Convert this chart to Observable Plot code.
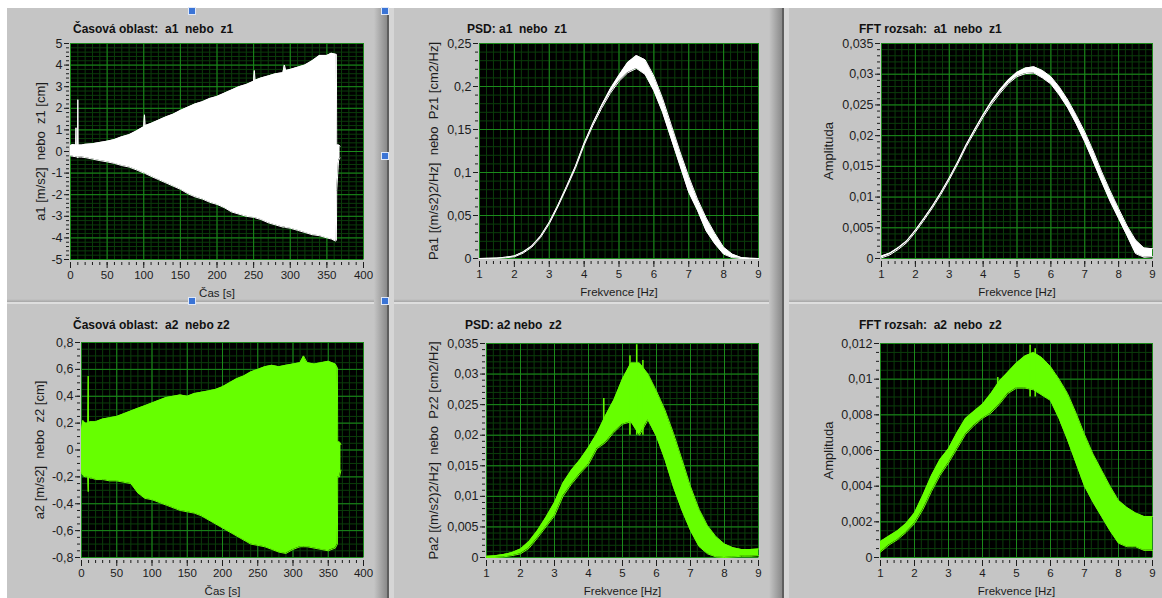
<!DOCTYPE html>
<html><head><meta charset="utf-8">
<script src="https://cdn.jsdelivr.net/npm/d3@7"></script>
<script src="https://cdn.jsdelivr.net/npm/@observablehq/plot@0.6"></script>
<style>
body{margin:0;background:#fff;}
#page{position:relative;width:1162px;height:598px;overflow:hidden;background:#fff;}
#page > div{position:absolute;}
.title{font:bold 12px "Liberation Sans",Arial,sans-serif;white-space:pre;color:#111;line-height:14px;}
.handle{width:6px;height:6px;background:#3a74d6;border:1px solid #dfe8f8;}
.plotbox svg{overflow:visible;display:block;}
</style></head>
<body>
<div id="page">
  <div style="left:7px;top:8px;width:1155px;height:590px;background:#c5c5c5"></div>
  <!-- horizontal separator -->
  <div style="left:7px;top:299px;width:1155px;height:3px;background:linear-gradient(#c5c5c5,#a6a6a6)"></div>
  <div style="left:7px;top:302px;width:1155px;height:2px;background:#dedede"></div>
  <!-- vertical separators -->
  <div style="left:374px;top:8px;width:13px;height:590px;background:linear-gradient(to right,#c5c5c5,#8a8a8a)"></div>
  <div style="left:387px;top:8px;width:2px;height:590px;background:#5e5e5e"></div>
  <div style="left:389px;top:8px;width:5px;height:590px;background:#d6d6d6"></div>
  <div style="left:769px;top:8px;width:13px;height:590px;background:linear-gradient(to right,#c5c5c5,#8a8a8a)"></div>
  <div style="left:782px;top:8px;width:2px;height:590px;background:#5e5e5e"></div>
  <div style="left:784px;top:8px;width:5px;height:590px;background:#d6d6d6"></div>
  <div id="plots" style="left:0;top:0;width:1162px;height:598px"></div>
  <div class="title" style="left:73px;top:22px">Časová oblast:  a1  nebo  z1</div>
  <div class="title" style="left:467px;top:22px">PSD: a1  nebo  z1</div>
  <div class="title" style="left:859px;top:22px">FFT rozsah:  a1  nebo  z1</div>
  <div class="title" style="left:73px;top:318px">Časová oblast:  a2  nebo z2</div>
  <div class="title" style="left:465px;top:318px">PSD: a2 nebo  z2</div>
  <div class="title" style="left:859px;top:318px">FFT rozsah:  a2  nebo  z2</div>
  <div class="handle" style="left:188px;top:7px"></div>
  <div class="handle" style="left:381px;top:7px"></div>
  <div class="handle" style="left:381px;top:152px"></div>
  <div class="handle" style="left:188px;top:297px"></div>
  <div class="handle" style="left:381px;top:297px"></div>
</div>
<script>
// ---------- DATA ----------
// time domain a1 / z1 : envelope of the signal
const time1 = [0,3,7,7.5,8,9.5,10,10.5,15,20,30,40,50,60,70,80,90,100,101,102,110,120,130,140,150,160,170,180,190,200,210,220,230,240,250,251,252,260,270,280,290,292,294,300,310,320,330,340,350,356,362,363,363.4,366,368];
const a1Upper = [0.28,0.32,0.3,1.1,0.3,0.3,2.4,0.3,0.3,0.33,0.36,0.42,0.48,0.55,0.68,0.78,0.95,1.15,1.7,1.2,1.3,1.45,1.6,1.72,1.9,2.05,2.2,2.3,2.45,2.55,2.7,2.85,3.0,3.1,3.25,3.75,3.3,3.4,3.5,3.6,3.65,4.0,3.75,3.8,3.9,4.0,4.2,4.45,4.45,4.55,4.5,4.5,0.3,0.3,0.25];
const a1Lower = [-0.2,-0.22,-0.24,-0.24,-0.25,-0.25,-0.3,-0.25,-0.26,-0.28,-0.35,-0.42,-0.48,-0.55,-0.65,-0.72,-0.85,-1.0,-1.0,-1.02,-1.15,-1.3,-1.45,-1.6,-1.75,-1.95,-2.1,-2.2,-2.35,-2.45,-2.6,-2.8,-2.9,-3.0,-3.05,-3.05,-3.07,-3.15,-3.3,-3.4,-3.5,-3.5,-3.52,-3.55,-3.65,-3.75,-3.85,-3.9,-4.0,-4.05,-4.15,-4.1,-1.8,-0.4,-0.3];

// time domain a2 / z2
const time2 = [0,2,5,9,9.5,10,12,15,20,30,40,50,60,70,80,90,100,110,120,130,140,150,160,170,180,190,200,210,220,230,240,250,260,270,280,290,300,310,315,320,330,340,350,360,363,363.4,366,368];
const a2Upper = [0.15,0.22,0.2,0.2,0.55,0.2,0.21,0.21,0.21,0.23,0.24,0.25,0.27,0.29,0.31,0.33,0.35,0.37,0.39,0.40,0.41,0.40,0.42,0.43,0.44,0.45,0.47,0.50,0.53,0.55,0.58,0.60,0.62,0.63,0.62,0.63,0.64,0.65,0.70,0.65,0.64,0.65,0.66,0.64,0.61,0.06,0.06,0.04];
const a2Lower = [-0.17,-0.19,-0.2,-0.2,-0.31,-0.2,-0.21,-0.21,-0.22,-0.22,-0.23,-0.23,-0.24,-0.25,-0.32,-0.36,-0.37,-0.39,-0.41,-0.43,-0.45,-0.46,-0.47,-0.49,-0.52,-0.55,-0.58,-0.61,-0.64,-0.67,-0.70,-0.71,-0.72,-0.74,-0.76,-0.77,-0.74,-0.72,-0.72,-0.72,-0.73,-0.74,-0.75,-0.73,-0.70,-0.2,-0.2,-0.15];

// spectra frequency grid [Hz]
const freq = [1,1.25,1.5,1.75,2,2.25,2.5,2.75,3,3.25,3.5,3.75,4,4.25,4.5,4.75,5,5.25,5.5,5.75,6,6.25,6.5,6.75,7,7.25,7.5,7.75,8,8.25,8.5,8.75,9];

const psd1Upper = [0,0.0002,0.0006,0.0015,0.003,0.0075,0.0145,0.026,0.042,0.062,0.084,0.107,0.134,0.157,0.178,0.197,0.213,0.228,0.236,0.231,0.212,0.186,0.155,0.124,0.095,0.069,0.047,0.029,0.013,0.005,0.0012,0.0003,0];
const psd1Lower = [0,0,0.0002,0.0008,0.002,0.0062,0.0132,0.0243,0.0403,0.0603,0.0822,0.1048,0.1318,0.1545,0.1745,0.192,0.206,0.216,0.221,0.214,0.195,0.170,0.139,0.108,0.077,0.056,0.032,0.017,0.005,0.001,0,0,0];

const fft1Upper = [0.0004,0.0009,0.0018,0.0029,0.0046,0.0065,0.0085,0.0107,0.0131,0.0157,0.0185,0.0210,0.0234,0.0256,0.0275,0.0291,0.0303,0.0310,0.0312,0.0306,0.0296,0.0279,0.0258,0.0233,0.0206,0.0175,0.0141,0.0110,0.0081,0.0053,0.0030,0.0017,0.0016];
const fft1Lower = [0.0001,0.0006,0.0015,0.0026,0.0043,0.0062,0.0082,0.0104,0.0128,0.0154,0.0182,0.0206,0.0230,0.0251,0.0269,0.0285,0.0296,0.0301,0.0302,0.0294,0.0284,0.0266,0.0245,0.0219,0.0190,0.0158,0.0125,0.0093,0.0065,0.0037,0.0008,0.0002,0.0003];

const psd2Upper = [0.0002,0.0003,0.0005,0.0008,0.0014,0.0026,0.0044,0.0066,0.0090,0.0122,0.0143,0.0160,0.0180,0.0203,0.0232,0.0258,0.0292,0.0318,0.0318,0.0300,0.0272,0.0241,0.0203,0.0160,0.0116,0.0079,0.0052,0.0034,0.0022,0.0016,0.0013,0.0013,0.0014];
const psd2Lower = [0,0,0.0001,0.0003,0.0006,0.0015,0.0032,0.0050,0.0068,0.0100,0.0120,0.0137,0.0152,0.0178,0.0188,0.0205,0.0218,0.0222,0.0200,0.0225,0.0198,0.0160,0.0115,0.0077,0.0044,0.0018,0.0006,0.0001,0,0.0001,0.0002,0.0002,0.0003];
const psd2SpikeF = [4.45,5.22,5.42,5.6];
const psd2SpikeV = [0.026,0.033,0.0348,0.0322];

const fft2Upper = [0.0009,0.0012,0.0015,0.0019,0.0025,0.0035,0.0046,0.0055,0.0061,0.0070,0.0078,0.0082,0.0086,0.0092,0.0099,0.0104,0.0109,0.0113,0.0115,0.0112,0.0107,0.0100,0.0092,0.0081,0.0069,0.0058,0.0049,0.0040,0.0032,0.0028,0.0025,0.0023,0.0023];
const fft2Lower = [0.0003,0.0007,0.0010,0.0014,0.0019,0.0027,0.0037,0.0046,0.0053,0.0061,0.0069,0.0074,0.0078,0.0081,0.0086,0.0092,0.0095,0.0095,0.0094,0.0091,0.0088,0.0078,0.0066,0.0053,0.0040,0.0031,0.0023,0.0015,0.0008,0.0006,0.0006,0.0004,0.0004];
const fft2SpikeF = [4.45,5.4,5.55];
const fft2SpikeV = [0.0101,0.0119,0.0117];

// tick values
const timeTicks = [0,50,100,150,200,250,300,350,400];
const freqTicks = [1,2,3,4,5,6,7,8,9];
const a1Ticks = [-5,-4,-3,-2,-1,0,1,2,3,4,5];
const a2Ticks = [-0.8,-0.6,-0.4,-0.2,0,0.2,0.4,0.6,0.8];
const psd1Ticks = [0,0.05,0.1,0.15,0.2,0.25];
const fft1Ticks = [0,0.005,0.01,0.015,0.02,0.025,0.03,0.035];
const psd2Ticks = [0,0.005,0.01,0.015,0.02,0.025,0.03,0.035];
const fft2Ticks = [0,0.002,0.004,0.006,0.008,0.01,0.012];

// ---------- DRAWING ----------
const MAJOR = "#1b8a1b", MINOR = "#0b3d0b";
const WHITE = "#ffffff", GREEN = "#66ff00";
const fmt = d => String(d).replace(".", ",");

function band(xs, lo, hi, color) {
  return [
    Plot.areaY(xs, {x: xs, y1: lo, y2: hi, fill: color, curve: "linear"}),
    Plot.line(xs, {x: xs, y: hi, stroke: color, strokeWidth: 1}),
    Plot.line(xs, {x: xs, y: lo, stroke: color, strokeWidth: 1})
  ];
}

function panel(c) {
  const chart = Plot.plot({
    width: c.width, height: c.height,
    marginLeft: c.ml, marginRight: c.mr, marginTop: c.mt, marginBottom: c.mb,
    x: {domain: c.xDomain}, y: {domain: c.yDomain},
    style: {fontFamily: '"Liberation Sans", Arial, sans-serif', fontSize: "12px", color: "#1c1c1c", background: "transparent"},
    marks: [
      Plot.frame({fill: "black"}),
      Plot.gridX({ticks: c.xMinor, stroke: MINOR, strokeOpacity: 1}),
      Plot.gridY({ticks: c.yMinor, stroke: MINOR, strokeOpacity: 1}),
      Plot.gridX({ticks: c.xMajor, stroke: MAJOR, strokeOpacity: 1}),
      Plot.gridY({ticks: c.yMajor, stroke: MAJOR, strokeOpacity: 1}),
      ...c.marks,
      Plot.axisX({ticks: c.xMinor, tickSize: 3, tickFormat: () => "", label: null, dy: 3}),
      Plot.axisX({ticks: c.xMajor, tickSize: 6, tickPadding: 2, tickFormat: fmt, label: null, dy: 3, fontSize: 11.5}),
      Plot.axisY({ticks: c.yMinor, tickSize: 3, tickFormat: () => "", label: null, dx: -1}),
      Plot.axisY({ticks: c.yMajor, tickSize: 5, tickPadding: 2, tickFormat: fmt, label: null, dx: -1, fontSize: 12.5}),
      Plot.text([c.ylabel], {text: d => d, frameAnchor: "left", textAnchor: "middle", dx: c.ylabelDx, rotate: -90, fontSize: 13, fill: "#1c1c1c"}),
      Plot.text([c.xlabel], {text: d => d, frameAnchor: "bottom", textAnchor: "middle", dy: 37, fontSize: 11.5, fill: "#1c1c1c"})
    ]
  });
  const box = document.createElement("div");
  box.className = "plotbox";
  box.style.cssText = `position:absolute;left:${c.left}px;top:${c.top}px;`;
  box.appendChild(chart);
  document.getElementById("plots").appendChild(box);
}

const timeMinor = d3.range(0, 400.001, 10);
const freqMinor = d3.range(1, 9.001, 0.2);

panel({left: 0, top: 0, width: 390, height: 300, ml: 70, mr: 27, mt: 43, mb: 41,
  xDomain: [0, 400], yDomain: [-5, 5], xMajor: timeTicks, xMinor: timeMinor,
  yMajor: a1Ticks, yMinor: d3.range(-5, 5.001, 0.2),
  ylabel: "a1 [m/s2]  nebo  z1 [cm]", ylabelDx: -30, xlabel: "Čas [s]",
  marks: band(time1, a1Lower, a1Upper, WHITE)});

panel({left: 390, top: 0, width: 390, height: 300, ml: 89, mr: 22, mt: 43, mb: 42,
  xDomain: [1, 9], yDomain: [0, 0.25], xMajor: freqTicks, xMinor: freqMinor,
  yMajor: psd1Ticks, yMinor: d3.range(0, 0.2501, 0.01),
  ylabel: "Pa1 [(m/s2)2/Hz]  nebo  Pz1 [cm2/Hz]", ylabelDx: -46, xlabel: "Frekvence [Hz]",
  marks: band(freq, psd1Lower, psd1Upper, WHITE)});

panel({left: 785, top: 0, width: 377, height: 300, ml: 96, mr: 10, mt: 43, mb: 42,
  xDomain: [1, 9], yDomain: [0, 0.035], xMajor: freqTicks, xMinor: freqMinor,
  yMajor: fft1Ticks, yMinor: d3.range(0, 0.03501, 0.001),
  ylabel: "Amplituda", ylabelDx: -53, xlabel: "Frekvence [Hz]",
  marks: band(freq, fft1Lower, fft1Upper, WHITE)});

panel({left: 0, top: 300, width: 390, height: 300, ml: 81, mr: 27, mt: 42, mb: 43,
  xDomain: [0, 400], yDomain: [-0.8, 0.8], xMajor: timeTicks, xMinor: timeMinor,
  yMajor: a2Ticks, yMinor: d3.range(-0.8, 0.8001, 0.05),
  ylabel: "a2 [m/s2]  nebo  z2 [cm]", ylabelDx: -42, xlabel: "Čas [s]",
  marks: band(time2, a2Lower, a2Upper, GREEN)});

panel({left: 390, top: 300, width: 390, height: 300, ml: 96, mr: 22, mt: 43, mb: 43,
  xDomain: [1, 9], yDomain: [0, 0.035], xMajor: freqTicks, xMinor: freqMinor,
  yMajor: psd2Ticks, yMinor: d3.range(0, 0.03501, 0.001),
  ylabel: "Pa2 [(m/s2)2/Hz]  nebo  Pz2 [cm2/Hz]", ylabelDx: -53, xlabel: "Frekvence [Hz]",
  marks: [...band(freq, psd2Lower, psd2Upper, GREEN),
    Plot.ruleX(psd2SpikeF, {x: psd2SpikeF, y1: 0.02, y2: psd2SpikeV, stroke: GREEN, strokeWidth: 1.5})]});

panel({left: 785, top: 300, width: 377, height: 300, ml: 95, mr: 10, mt: 43, mb: 43,
  xDomain: [1, 9], yDomain: [0, 0.012], xMajor: freqTicks, xMinor: freqMinor,
  yMajor: fft2Ticks, yMinor: d3.range(0, 0.01201, 0.0005),
  ylabel: "Amplituda", ylabelDx: -52, xlabel: "Frekvence [Hz]",
  marks: [...band(freq, fft2Lower, fft2Upper, GREEN),
    Plot.ruleX(fft2SpikeF, {x: fft2SpikeF, y1: 0.009, y2: fft2SpikeV, stroke: GREEN, strokeWidth: 1.5})]});
</script>
</body></html>
